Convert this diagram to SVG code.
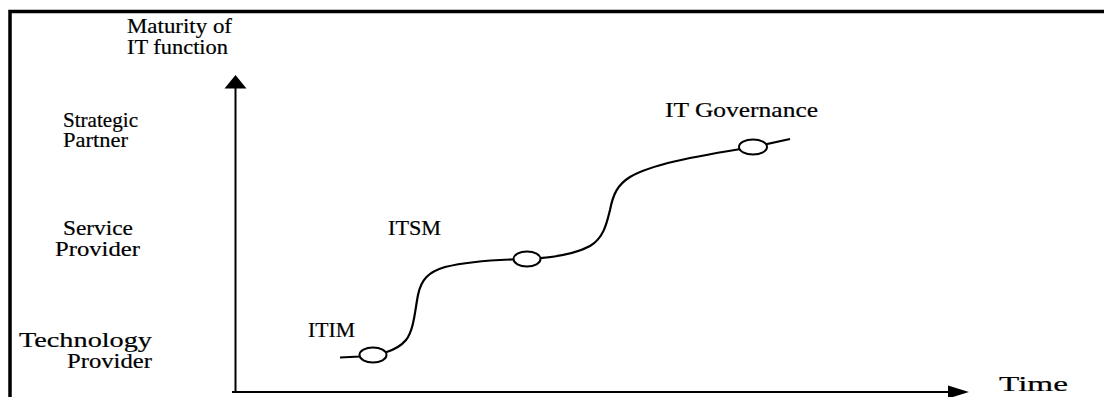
<svg xmlns="http://www.w3.org/2000/svg" width="1104" height="397" viewBox="0 0 1104 397">
  <style>
    text { font-family: "Liberation Serif", "Times New Roman", Times, "DejaVu Serif", serif; font-size: 21px; fill: #000; stroke: #000; stroke-width: 0.2; }
    .frame { stroke: #000; stroke-width: 3.5; fill: none; }
    .axis { stroke: #000; stroke-width: 2; fill: none; }
    .curve { stroke: #000; stroke-width: 2.2; fill: none; }
    .stage { stroke: #000; stroke-width: 2; fill: #fff; }
  </style>
  <rect width="1104" height="397" fill="#fff"/>

  <!-- outer frame (top and left edges) -->
  <path class="frame" d="M10,397 V11.5 H1104"/>

  <!-- axes -->
  <g id="axes">
    <line class="axis" x1="235.5" y1="393" x2="235.5" y2="88"/>
    <polygon points="235.5,75 224.5,88.5 246.5,88.5" fill="#000"/>
    <line class="axis" x1="232" y1="392" x2="950" y2="392"/>
    <polygon points="969,392 948,385.5 948,398.5" fill="#000"/>
  </g>

  <!-- axis titles and level labels -->
  <g id="y-title">
    <text x="127" y="33" textLength="105" lengthAdjust="spacingAndGlyphs">Maturity of</text>
    <text x="127" y="54" textLength="101" lengthAdjust="spacingAndGlyphs">IT function</text>
  </g>
  <g id="x-title">
    <text x="999" y="391" textLength="69" lengthAdjust="spacingAndGlyphs">Time</text>
  </g>
  <g id="level-strategic">
    <text x="63" y="127" textLength="75" lengthAdjust="spacingAndGlyphs">Strategic</text>
    <text x="63" y="147" textLength="65" lengthAdjust="spacingAndGlyphs">Partner</text>
  </g>
  <g id="level-service">
    <text x="63" y="235" textLength="70" lengthAdjust="spacingAndGlyphs">Service</text>
    <text x="55" y="256" textLength="85" lengthAdjust="spacingAndGlyphs">Provider</text>
  </g>
  <g id="level-technology">
    <text x="19" y="347" textLength="133" lengthAdjust="spacingAndGlyphs">Technology</text>
    <text x="67" y="368" textLength="85" lengthAdjust="spacingAndGlyphs">Provider</text>
  </g>

  <!-- maturity curve -->
  <g id="connectors">
    <path class="curve" d="M340,357.5 L360,356.5 C378,355 396,352 406,340 C414,330 415,310 418,295 C421,280 428,272 445,267 C470,261 500,259.5 527,259 C550,258 575,254 590,246 C604,238 607,222 610,210 C613,195 617,185 630,177 C650,165 690,157 753,147 L790,139"/>
  </g>

  <!-- stages -->
  <g id="stage-itim">
    <ellipse class="stage" cx="373" cy="355" rx="13.5" ry="7.5"/>
    <text x="308" y="337" textLength="47" lengthAdjust="spacingAndGlyphs">ITIM</text>
  </g>
  <g id="stage-itsm">
    <ellipse class="stage" cx="527" cy="259" rx="13.5" ry="7.5"/>
    <text x="388" y="235" textLength="53" lengthAdjust="spacingAndGlyphs">ITSM</text>
  </g>
  <g id="stage-governance">
    <ellipse class="stage" cx="753" cy="147" rx="14" ry="7.5"/>
    <text x="665" y="117" textLength="153" lengthAdjust="spacingAndGlyphs">IT Governance</text>
  </g>
</svg>
